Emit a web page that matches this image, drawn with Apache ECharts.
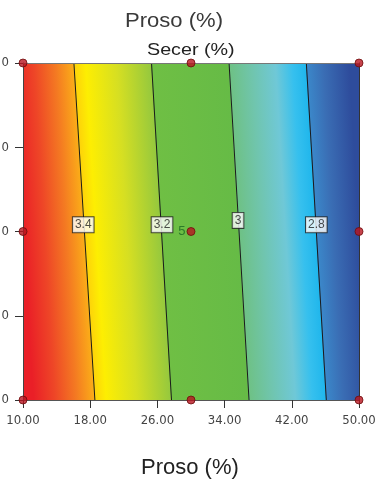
<!DOCTYPE html>
<html><head><meta charset="utf-8">
<script src="https://cdn.jsdelivr.net/npm/echarts@6/dist/echarts.min.js"></script>
<style>html,body{margin:0;padding:0;background:#fff}#c{width:377px;height:484px}</style>
</head><body><div id="c"></div>
<script>
// ---- data ----
const xTicks = [10, 18, 26, 34, 42, 50];
const yTicks = [10, 15, 20, 25, 30];
const contourLevels = [3.4, 3.2, 3.0, 2.8];
const contourTopX = [16.06, 25.30, 34.53, 43.73];
const contourBottomX = [18.56, 27.68, 36.91, 46.11];
const contourLabelX = [17.17, 26.55, 35.6, 44.92];
const contourLabelY = [20.40, 20.40, 20.66, 20.40];
const designX = [10, 30, 50, 10, 30, 50, 10, 30, 50];
const designY = [30, 30, 30, 20, 20, 20, 10, 10, 10];
const designReps = [1, 1, 1, 1, 5, 1, 1, 1, 1];

// ---- styles ----
const bandStops = [
  [[0, '#ea1f27'], [0.35, '#ee4627'], [0.7, '#f47a22'], [1, '#fbae18']],
  [[0, '#fdd20a'], [0.15, '#fdee02'], [0.55, '#d6df22'], [1, '#94c83e']],
  [[0, '#6fbf44'], [1, '#66bb46']],
  [[0, '#6ec184'], [0.3, '#70c5ae'], [0.6, '#6fc8d7'], [0.82, '#36c0ee'], [1, '#1fb6ec']],
  [[0, '#3b88ca'], [0.4, '#3a6db4'], [1, '#2e4c9c']]
];

const xMin = xTicks[0], xMax = xTicks[xTicks.length - 1];
const yMin = yTicks[0], yMax = yTicks[yTicks.length - 1];
const FONT = 'Liberation Sans, Arial, sans-serif';
const NARROW = '"Liberation Sans Narrow", "Arial Narrow", "DejaVu Sans Condensed", sans-serif';

const chart = echarts.init(document.getElementById('c'), null, {renderer: 'canvas'});

function renderBand(params, api) {
  const i = api.value(0);
  const n = contourLevels.length;
  const lt = i === 0 ? xMin : contourTopX[i - 1];
  const lb = i === 0 ? xMin : contourBottomX[i - 1];
  const rt = i === n ? xMax : contourTopX[i];
  const rb = i === n ? xMax : contourBottomX[i];
  const TL = api.coord([lt, yMax]), BL = api.coord([lb, yMin]);
  const TR = api.coord([rt, yMax]), BR = api.coord([rb, yMin]);
  let dxs = [], dy = BL[1] - TL[1];
  if (i > 0) dxs.push(BL[0] - TL[0]);
  if (i < n) dxs.push(BR[0] - TR[0]);
  const dx = dxs.reduce((a, b) => a + b, 0) / dxs.length;
  const len = Math.sqrt(dx * dx + dy * dy);
  const midY = (TL[1] + BL[1]) / 2;
  const xl = (TL[0] + BL[0]) / 2, xr = (TR[0] + BR[0]) / 2;
  const W = xr - xl;
  const c = dy / len, s = dx / len;
  const p0 = [xl, midY];
  const p1 = [xl + W * c * c, midY - W * c * s];
  const grad = new echarts.graphic.LinearGradient(p0[0], p0[1], p1[0], p1[1],
    bandStops[i].map(st => ({offset: st[0], color: st[1]})), true);
  return {
    type: 'polygon',
    shape: {points: [[TL[0] - 0.5, TL[1]], [TR[0] + 0.5, TR[1]], [BR[0] + 0.5, BR[1]], [BL[0] - 0.5, BL[1]]]},
    style: {fill: grad}
  };
}

const series = [];
series.push({
  type: 'custom', renderItem: renderBand, z: 1, silent: true, clip: true,
  data: bandStops.map((_, i) => [i])
});
contourLevels.forEach((lv, k) => {
  series.push({
    type: 'line', silent: true, symbol: 'none', z: 3,
    lineStyle: {color: '#1a1a1a', width: 1},
    data: [[contourTopX[k], yMax], [contourBottomX[k], yMin]]
  });
});
series.push({
  type: 'scatter', silent: true, z: 4, symbolSize: 1,
  itemStyle: {color: 'rgba(0,0,0,0)'},
  data: contourLevels.map((lv, k) => [contourLabelX[k], contourLabelY[k], lv]),
  label: {
    show: true, position: 'inside',
    formatter: p => String(p.value[2]),
    backgroundColor: '#fff', borderColor: '#222', borderWidth: 1,
    padding: [2, 2, 1, 2], fontSize: 12, color: '#222', fontFamily: FONT
  }
});
series.push({
  type: 'scatter', silent: true, z: 10, symbolSize: 8,
  itemStyle: {color: '#b8141f', borderColor: '#6e0d0d', borderWidth: 1},
  data: designX.map((x, k) => [x, designY[k], designReps[k]]),
  labelLayout: {hideOverlap: false},
  label: {
    show: true, position: 'left', distance: 1, offset: [1, -1],
    formatter: p => p.value[2] > 1 ? String(p.value[2]) : '',
    color: '#1a6b22', fontSize: 13, fontFamily: FONT
  }
});

chart.setOption({
  animation: false,
  backgroundColor: '#fff',
  grid: {left: 23, right: 18, top: 63, bottom: 84, containLabel: false, outerBoundsMode: 'none'},
  xAxis: [{
    type: 'value', min: xMin, max: xMax, interval: 8, z: 6,
    axisLine: {show: true, lineStyle: {color: '#555', width: 1}},
    axisTick: {show: true, length: 8, lineStyle: {color: '#333'}},
    axisLabel: {margin: 14, fontSize: 13, color: '#444', fontFamily: NARROW, formatter: v => v.toFixed(2)},
    splitLine: {show: false}
  }, {
    type: 'value', position: 'top', min: xMin, max: xMax, z: 6,
    axisLine: {show: true, onZero: false, lineStyle: {color: '#777', width: 1}},
    axisTick: {show: false}, axisLabel: {show: false}, splitLine: {show: false}
  }],
  yAxis: [{
    type: 'value', min: yMin, max: yMax, interval: 5, z: 6,
    axisLine: {show: true, lineStyle: {color: '#444', width: 1}},
    axisTick: {show: true, length: 8, lineStyle: {color: '#333'}},
    axisLabel: {
      margin: 14, fontSize: 13, color: '#444', fontFamily: NARROW,
      formatter: v => { const s = v.toFixed(2); return '{a|' + s.slice(0, -1) + '}{b|' + s.slice(-1) + '}'; },
      rich: {a: {padding: [0, 14, 0, 0], fontSize: 13, fontFamily: NARROW, color: '#444'},
             b: {fontSize: 13, fontFamily: NARROW, color: '#444'}}
    },
    splitLine: {show: false}
  }, {
    type: 'value', position: 'right', min: yMin, max: yMax, z: 6,
    axisLine: {show: true, onZero: false, lineStyle: {color: '#333', width: 1}},
    axisTick: {show: false}, axisLabel: {show: false}, splitLine: {show: false}
  }],
  graphic: [
    {type: 'text', x: 125, y: 11, scaleX: 1.05, style: {text: 'Proso (%)', font: '21px ' + FONT, fill: '#3a3a3a', verticalAlign: 'top'}},
    {type: 'text', x: 147, y: 42, scaleX: 1.16, style: {text: 'Secer (%)', font: '17px ' + FONT, fill: '#222', verticalAlign: 'top'}},
    {type: 'text', x: 141, y: 457, style: {text: 'Proso (%)', font: '22px ' + FONT, fill: '#222', verticalAlign: 'top'}}
  ],
  series: series
});
</script></body></html>
